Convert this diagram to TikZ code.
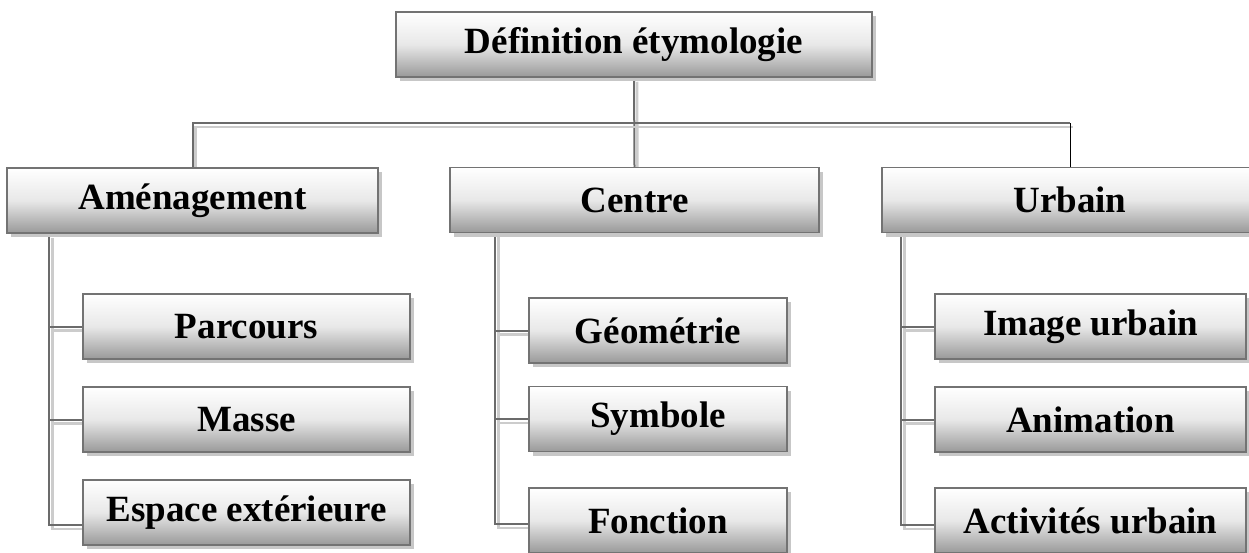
\documentclass[tikz,border=0pt]{standalone}
\usepackage{fontspec}
\setmainfont{Liberation Serif}
\usetikzlibrary{shadows,backgrounds}

\tikzset{
  x=1pt, y=-1pt,
  box/.style={
    draw=black!55, line width=1.5pt,
    top color=white, bottom color=black!40, middle color=black!9,
    minimum height=65pt, inner sep=0pt,
    font=\bfseries\fontsize{37}{40}\selectfont,
    drop shadow={shadow xshift=4pt, shadow yshift=-4pt, fill=black!22, opacity=1}},
  link/.style={
    draw=black!58, line width=2pt,
    preaction={draw=black!20, line width=2.5pt,
      transform canvas={shift={(3pt,-4pt)}}}},
  thinlink/.style={draw=black, line width=1pt},
}

\begin{document}
\begin{tikzpicture}
\useasboundingbox (0,0) rectangle (1249,552);
\clip (0,0) rectangle (1249,552);

% root
\node[box, minimum width=476pt] (root) at (634,44.5) {Définition étymologie};

% first level
\node[box, minimum width=371pt] (amen) at (192.5,200.5) {Aménagement};
\node[box, minimum width=369pt] (centre) at (634.5,200) {Centre};
\node[box, minimum width=376pt] (urb) at (1070,200) {Urbain};

% second level, left column
\node[box, minimum width=327pt] (parc) at (246.5,326.5) {Parcours};
\node[box, minimum width=327pt] (masse) at (246.5,419.5) {Masse};
\node[box, minimum width=327pt] (esp) at (246.5,512.5) {Espace extérieure};

% second level, middle column
\node[box, minimum width=258pt] (geo) at (658,330.5) {Géométrie};
\node[box, minimum width=258pt] (sym) at (658,419) {Symbole};
\node[box, minimum width=258pt] (fon) at (658,520.5) {Fonction};

% second level, right column
\node[box, minimum width=311pt] (img) at (1090.5,326.5) {Image urbain};
\node[box, minimum width=311pt] (anim) at (1090.5,419.5) {Animation};
\node[box, minimum width=311pt] (act) at (1090.5,520.5) {Activités urbain};

\coordinate (bar) at (0,123);
\coordinate (ax) at ([xshift=43pt]amen.south west);
\coordinate (cx) at ([xshift=46pt]centre.south west);
\coordinate (ux) at ([xshift=20pt]urb.south west);

\begin{scope}[on background layer]
  % root to first level
  \draw[link] (root.south) -- (centre.north);
  \draw[link] (amen.north) |- (urb.north |- bar);
  \draw[thinlink] (urb.north |- bar) -- (urb.north);

  % left column
  \draw[link] (ax) |- ([yshift=-12.5pt]esp.west);
  \draw[link] (ax |- parc.west) -- (parc.west);
  \draw[link] (ax |- masse.west) -- (masse.west);

  % middle column
  \draw[link] (cx) |- ([yshift=-3.5pt]fon.west);
  \draw[link] (cx |- geo.west) -- (geo.west);
  \draw[link] (cx |- sym.west) -- (sym.west);

  % right column
  \draw[link] (ux) |- ([yshift=-4.5pt]act.west);
  \draw[link] (ux |- img.west) -- (img.west);
  \draw[link] (ux |- anim.west) -- (anim.west);
\end{scope}
\end{tikzpicture}
\end{document}
